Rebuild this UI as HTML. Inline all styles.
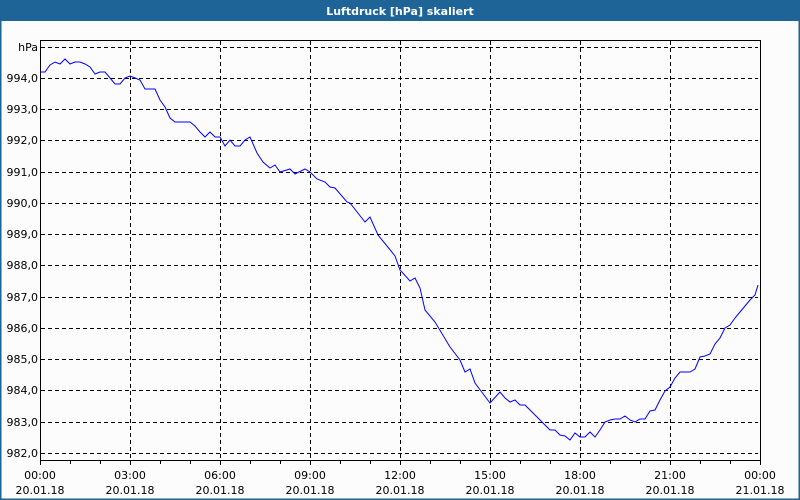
<!DOCTYPE html>
<html><head><meta charset="utf-8"><style>
html,body{margin:0;padding:0;background:#fff}
svg{display:block}
text{font-family:"DejaVu Sans","Liberation Sans",sans-serif;font-size:11px;fill:#000}
</style></head><body>
<svg width="800" height="500" xmlns="http://www.w3.org/2000/svg">
<rect x="0" y="0" width="800" height="500" fill="#fcfcfc"/>
<rect x="0" y="0" width="800" height="20" fill="#1e6496"/>
<rect x="0.5" y="20" width="799" height="479.5" fill="none" stroke="#1e6496" stroke-width="2"/>
<text x="400" y="15" text-anchor="middle" style="fill:#fff;font-weight:bold;font-size:11px">Luftdruck [hPa] skaliert</text>
<g stroke="#000" stroke-width="1" stroke-dasharray="4,3" shape-rendering="crispEdges">
<line x1="41" y1="47.5" x2="758" y2="47.5"/>
<line x1="41" y1="78.5" x2="758" y2="78.5"/>
<line x1="41" y1="109.5" x2="758" y2="109.5"/>
<line x1="41" y1="140.5" x2="758" y2="140.5"/>
<line x1="41" y1="172.5" x2="758" y2="172.5"/>
<line x1="41" y1="203.5" x2="758" y2="203.5"/>
<line x1="41" y1="234.5" x2="758" y2="234.5"/>
<line x1="41" y1="265.5" x2="758" y2="265.5"/>
<line x1="41" y1="297.5" x2="758" y2="297.5"/>
<line x1="41" y1="328.5" x2="758" y2="328.5"/>
<line x1="41" y1="359.5" x2="758" y2="359.5"/>
<line x1="41" y1="390.5" x2="758" y2="390.5"/>
<line x1="41" y1="422.5" x2="758" y2="422.5"/>
<line x1="41" y1="453.5" x2="758" y2="453.5"/>
<line x1="130.5" y1="41" x2="130.5" y2="460"/>
<line x1="220.5" y1="41" x2="220.5" y2="460"/>
<line x1="310.5" y1="41" x2="310.5" y2="460"/>
<line x1="400.5" y1="41" x2="400.5" y2="460"/>
<line x1="490.5" y1="41" x2="490.5" y2="460"/>
<line x1="580.5" y1="41" x2="580.5" y2="460"/>
<line x1="670.5" y1="41" x2="670.5" y2="460"/>
</g>
<g stroke="#000" stroke-width="1" shape-rendering="crispEdges" fill="none">
<rect x="40.5" y="40.5" width="720" height="420"/>
<path d="M40.5 461v4M70.5 461v3M100.5 461v3M130.5 461v4M160.5 461v3M190.5 461v3M220.5 461v4M250.5 461v3M280.5 461v3M310.5 461v4M340.5 461v3M370.5 461v3M400.5 461v4M430.5 461v3M460.5 461v3M490.5 461v4M520.5 461v3M550.5 461v3M580.5 461v4M610.5 461v3M640.5 461v3M670.5 461v4M700.5 461v3M730.5 461v3M760.5 461v4"/>
</g>
<polyline fill="none" stroke="#0000ff" stroke-width="1" points="40,72 45,72 50,65 55,62 60,64 65,59 70,64 75,62 80,62 85,64 90,67 95,74 100,72 105,72 110,78 115,84 120,84 125,78 130,76 135,78 140,80 145,89 155,89 160,100 165,107 170,118 175,122 190,122 195,126 200,132 205,137 210,132 215,137 220,137 225,146 230,140 235,146 240,146 245,140 250,137 257,153 263,162 270,168 275,165 280,172 290,169 295,174 305,169 310,172 317,179 325,182 330,187 335,188 347,202 350,203 365,222 370,217 378,235 387,246 395,256 400,270 410,281 415,278 420,288 425,310 435,322 450,347 460,360 465,372 470,369 475,383 490,403 500,392 505,398 510,402 515,400 520,405 525,405 530,410 535,415 540,420 545,425 550,430 555,430 560,435 565,436 570,440 575,433 580,437 585,437 590,432 595,437 600,430 605,422 610,420 615,419 620,419 625,416 630,420 635,422 640,419 645,419 650,411 655,410 660,400 665,391 670,387 675,378 680,372 685,372 690,372 695,369 700,357 705,356 710,354 715,344 720,338 725,328 730,325 735,318 740,312 745,306 750,300 755,295 758,285"/>
<g text-anchor="end">
<text x="38" y="51">hPa</text>
<text x="38" y="82">994,0</text>
<text x="38" y="113">993,0</text>
<text x="38" y="144">992,0</text>
<text x="38" y="176">991,0</text>
<text x="38" y="207">990,0</text>
<text x="38" y="238">989,0</text>
<text x="38" y="269">988,0</text>
<text x="38" y="301">987,0</text>
<text x="38" y="332">986,0</text>
<text x="38" y="363">985,0</text>
<text x="38" y="394">984,0</text>
<text x="38" y="426">983,0</text>
<text x="38" y="457">982,0</text>
</g>
<g text-anchor="middle">
<text x="40" y="479">00:00</text><text x="40" y="494">20.01.18</text>
<text x="130" y="479">03:00</text><text x="130" y="494">20.01.18</text>
<text x="220" y="479">06:00</text><text x="220" y="494">20.01.18</text>
<text x="310" y="479">09:00</text><text x="310" y="494">20.01.18</text>
<text x="400" y="479">12:00</text><text x="400" y="494">20.01.18</text>
<text x="490" y="479">15:00</text><text x="490" y="494">20.01.18</text>
<text x="580" y="479">18:00</text><text x="580" y="494">20.01.18</text>
<text x="670" y="479">21:00</text><text x="670" y="494">20.01.18</text>
<text x="760" y="479">00:00</text><text x="760" y="494">21.01.18</text>
</g>
</svg>
</body></html>
